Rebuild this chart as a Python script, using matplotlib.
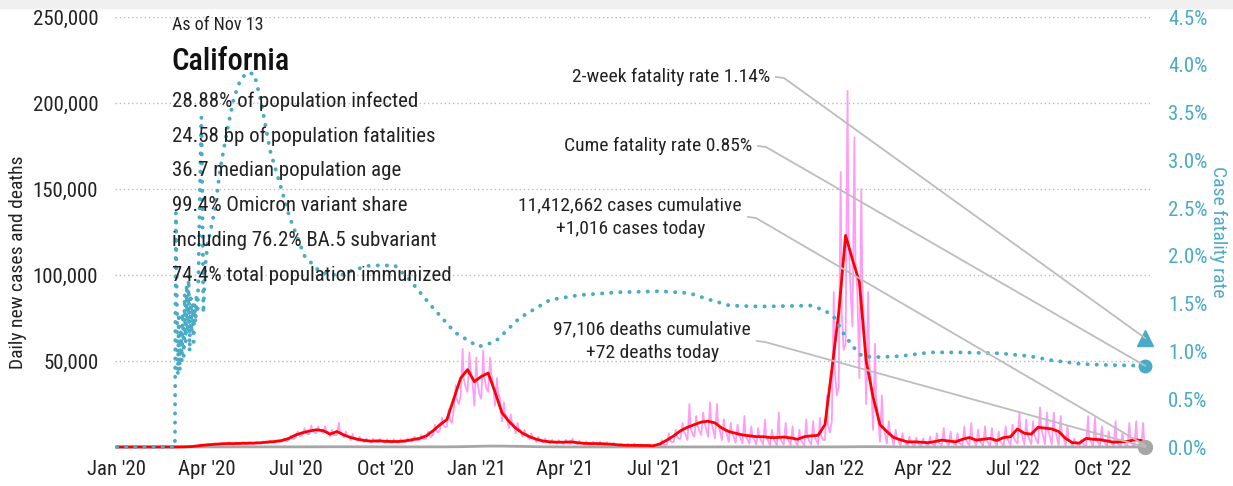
import matplotlib
matplotlib.use('Agg')
import matplotlib.pyplot as plt
import matplotlib.dates as mdates
import matplotlib.ticker as mticker
import numpy as np
import pandas as pd
from matplotlib.lines import Line2D
from matplotlib.patches import Rectangle

plt.rcParams['font.family'] = ['Liberation Sans Narrow', 'Roboto Condensed', 'DejaVu Sans']

START = pd.Timestamp('2020-01-01')
END = pd.Timestamp('2022-11-13')

# weekly 7-day average of new cases (week k starts START + 7k days)
cases_avg = [0, 0, 0, 0, 0, 0, 0, 0, 0, 20, 100, 300, 800, 1200, 1500, 1800, 2000, 2000, 2100, 2200,
             2300, 2500, 2900, 3200, 3800, 5000, 7000, 8300, 9300, 10000, 9500, 7500, 9000, 7000, 5500, 4500, 3800, 3400, 3600, 3300,
             3200, 3200, 3600, 4300, 5000, 6500, 9500, 13000, 16000, 28000, 40000, 45000, 38000, 41000, 43000, 32000, 20000, 15000, 11000, 8000,
             6000, 4500, 3500, 3000, 2800, 2800, 3000, 2500, 2100, 2000, 2000, 1800, 1600, 1200, 1000, 1000, 900, 900, 700, 1800,
             4000, 6500, 9500, 11500, 13000, 14500, 15000, 14000, 11000, 9000, 8000, 7000, 6500, 6000, 6000, 5500, 5500, 5800, 5300, 4500,
             6000, 6500, 6800, 13000, 45000, 78000, 123000, 109000, 96000, 50000, 29000, 13000, 9000, 5500, 4200, 3000, 3000, 2800, 2500, 3200,
             4000, 3500, 3000, 4500, 5500, 4000, 4500, 5000, 3800, 5500, 6000, 10500, 8000, 7500, 11500, 11000, 10500, 9000, 5000, 2500,
             2300, 5000, 4500, 4300, 3500, 2800, 3000, 3200, 4200, 3800]

# weekly high and low of the daily reported cases
cases_hi = [0, 0, 0, 0, 0, 0, 0, 0, 0, 50, 300, 700, 1500, 2000, 2200, 2500, 2700, 2600, 2800, 3000,
            3000, 3300, 3800, 4000, 4800, 6500, 9000, 11000, 12500, 12000, 12000, 10000, 14000, 9000, 7500, 6000, 5000, 4800, 4800, 4500,
            4500, 4600, 5000, 6000, 7000, 9000, 13000, 17000, 22000, 36000, 57000, 55000, 52000, 56000, 52000, 40000, 26000, 19000, 14000, 10000,
            8000, 6000, 5000, 4200, 4000, 4200, 5000, 3500, 3200, 3000, 3000, 2800, 2500, 2000, 1800, 2000, 1500, 1500, 1200, 4000,
            8000, 10000, 14000, 25000, 18000, 20000, 26000, 25000, 16000, 14000, 13000, 18000, 12000, 11000, 16000, 10000, 20000, 14000, 12000, 10000,
            16000, 15000, 17000, 30000, 90000, 160000, 207000, 180000, 150000, 90000, 60000, 30000, 15000, 10000, 8000, 6000, 5500, 5000, 6000, 8000,
            11000, 9000, 8000, 12000, 14000, 10000, 12000, 11000, 9000, 12000, 13000, 20000, 16000, 15000, 23000, 20000, 20000, 18000, 12000, 5000,
            4000, 18000, 17000, 12000, 9000, 15000, 8000, 14000, 15000, 14000]

cases_lo = [0, 0, 0, 0, 0, 0, 0, 0, 0, 0, 50, 200, 500, 900, 1000, 1300, 1500, 1500, 1600, 1700,
            1800, 2000, 2300, 2600, 3200, 4000, 5500, 7000, 7500, 8000, 8000, 6000, 7000, 5500, 4000, 3500, 2800, 2600, 2700, 2500,
            2400, 2500, 2800, 3300, 4000, 5000, 7500, 10000, 12000, 22000, 30000, 32000, 24000, 28000, 32000, 24000, 15000, 11000, 8000, 6000,
            4500, 3000, 2500, 2000, 1800, 1700, 1800, 1500, 1300, 1200, 1100, 1000, 800, 500, 400, 300, 300, 300, 0, 500,
            1500, 3000, 5000, 4000, 6000, 7000, 6000, 5000, 4000, 3000, 2500, 2000, 2000, 1500, 1500, 1000, 1000, 1500, 1000, 800,
            1000, 1500, 1500, 4000, 15000, 35000, 60000, 70000, 40000, 25000, 10000, 3000, 2000, 1000, 800, 500, 500, 400, 500, 800,
            1000, 800, 600, 1000, 1000, 800, 800, 800, 600, 1000, 1000, 2000, 1500, 1500, 2000, 1500, 1500, 1200, 800, 400,
            300, 500, 500, 500, 400, 300, 300, 300, 300, 300]

deaths_avg = [0, 0, 0, 0, 0, 0, 0, 0, 0, 0, 5, 15, 30, 50, 60, 80, 90, 80, 75, 75,
              70, 65, 60, 60, 60, 65, 80, 90, 110, 120, 130, 135, 130, 125, 115, 100, 90, 80, 70, 65,
              60, 55, 50, 45, 45, 45, 50, 60, 80, 110, 180, 270, 380, 480, 530, 540, 520, 470, 420, 330,
              250, 180, 130, 100, 80, 60, 50, 45, 40, 35, 30, 25, 22, 20, 20, 18, 18, 18, 15, 15,
              20, 25, 35, 50, 70, 90, 100, 110, 110, 105, 95, 85, 75, 65, 60, 50, 45, 40, 40, 40,
              40, 40, 40, 40, 50, 70, 110, 170, 220, 240, 220, 170, 130, 90, 70, 55, 45, 35, 30, 25,
              20, 20, 20, 20, 20, 20, 25, 25, 25, 30, 30, 35, 35, 40, 40, 45, 45, 45, 40, 40,
              35, 30, 30, 25, 25, 25, 25, 25, 25, 25]

# case fatality rate (%) by day number since 2020-01-01
cfr_days = [0, 59, 60, 61, 62, 63, 64, 65, 66, 67, 68, 69, 70, 71, 72, 73, 74, 75, 76, 77, 78, 79, 80,
            81, 82, 83, 84, 85, 86, 87, 88, 89, 90, 91, 92, 93, 94, 95,
            100, 105, 112, 119, 126, 133, 140, 147, 156, 166, 176, 191, 207, 227, 240, 258, 283, 298, 319,
            344, 368, 385, 410, 441, 471, 512, 553, 583, 604, 624, 655, 706, 721, 731, 741, 752, 759, 772,
            797, 828, 858, 899, 930, 950, 981, 1001, 1047]
cfr_values = [0, 0, 2.45, 1.5, 0.75, 1.4, 0.8, 1.2, 0.9, 1.4, 0.95, 1.6, 1.1, 1.7, 1.2, 1.8, 1.0, 1.6, 1.2, 1.5, 1.1, 1.5, 1.3,
              1.6, 1.4, 1.8, 2.4, 3.0, 3.45, 2.5, 1.4, 1.7, 1.9, 2.0, 2.1, 2.2, 2.2, 2.25,
              2.5, 2.9, 3.3, 3.65, 3.85, 3.92, 3.9, 3.6, 3.1, 2.75, 2.4, 2.0, 1.83, 1.79, 1.85, 1.9, 1.9, 1.75, 1.49,
              1.2, 1.05, 1.1, 1.35, 1.54, 1.59, 1.62, 1.63, 1.61, 1.54, 1.48, 1.47, 1.48, 1.43, 1.35, 1.17, 1.02, 0.95, 0.94,
              0.95, 0.99, 0.99, 0.98, 0.95, 0.91, 0.87, 0.86, 0.85]

cfr_2week = 1.14
cfr_cume = 0.85
cases_today = 1016
deaths_today = 72

stats_lines = ["28.88% of population infected",
               "24.58 bp of population fatalities",
               "36.7 median population age",
               "99.4% Omicron variant share",
               "including 76.2% BA.5 subvariant",
               "74.4% total population immunized"]

left_ticks = [0, 50000, 100000, 150000, 200000, 250000]
right_ticks = [0.0, 0.5, 1.0, 1.5, 2.0, 2.5, 3.0, 3.5, 4.0, 4.5]

BLUE = '#4aabc6'
PINK = '#ff9cf6'
RED = '#ff0000'
GRAY = '#a6a6a6'
LEADER = '#bdbdbd'

W, H = 1233, 486
fig = plt.figure(figsize=(W / 100, H / 100), dpi=100)
fig.patches.append(Rectangle((0, 1 - 8 / H), 1, 8 / H, transform=fig.transFigure,
                             color='#f0f0f0', zorder=0))

ax_l, ax_r, ax_t, ax_b = 115, 1150, 17, 447
ax = fig.add_axes([ax_l / W, 1 - ax_b / H, (ax_r - ax_l) / W, (ax_b - ax_t) / H])
ax2 = ax.twinx()

week_dates = START + pd.to_timedelta(np.arange(len(cases_avg)) * 7, unit='D')

# daily reported cases, spiky
pd_dates, pd_vals = [], []
for d, lo, hi, av in zip(week_dates, cases_lo, cases_hi, cases_avg):
    pd_dates += [d, d + pd.Timedelta(days=2), d + pd.Timedelta(days=3), d + pd.Timedelta(days=5)]
    pd_vals += [lo, hi, av, (lo + av) / 2]
ax.plot(pd_dates, pd_vals, color=PINK, lw=1.3, zorder=2, clip_on=False)
ax.plot(week_dates, deaths_avg, color=GRAY, lw=2.0, zorder=3, clip_on=False)
ax.plot(week_dates, cases_avg, color=RED, lw=2.0, zorder=4, clip_on=False)

cfr_dates = START + pd.to_timedelta(cfr_days, unit='D')
ax2.plot(cfr_dates, cfr_values, color=BLUE, lw=2.8, linestyle=(0, (0.05, 2.3)),
         dash_capstyle='round', zorder=3, clip_on=False)

ax.set_xlim(START - pd.Timedelta(days=2), END + pd.Timedelta(days=5))
ax.set_ylim(0, 250000)
ax2.set_ylim(0, 4.5)

ax.set_yticks(left_ticks)
ax.yaxis.set_major_formatter(mticker.FuncFormatter(lambda v, p: f"{int(v):,}" if v > 0 else ""))
ax2.set_yticks(right_ticks)
ax2.yaxis.set_major_formatter(mticker.FuncFormatter(lambda v, p: f"{v:.1f}%"))

ax.xaxis.set_major_locator(mdates.MonthLocator(bymonth=[1, 4, 7, 10]))
ax.xaxis.set_major_formatter(mdates.DateFormatter("%b '%y"))

for a in (ax, ax2):
    for s in a.spines.values():
        s.set_visible(False)
    a.tick_params(length=0)
ax.tick_params(axis='y', labelsize=15, pad=12, labelcolor='#222222')
ax.tick_params(axis='x', labelsize=15, pad=9, labelcolor='#222222')
ax2.tick_params(axis='y', labelsize=15, pad=13, labelcolor=BLUE)

ax.grid(axis='y', color='#bbbbbb', linestyle=(0, (1, 2)), lw=1)
ax.yaxis.get_gridlines()[0].set_visible(False)
ax.set_axisbelow(True)

fig.text(18 / W, 1 - 262 / H, "Daily new cases and deaths", rotation=90, va='center', ha='center',
         fontsize=14, color='#222222')
fig.text(1218 / W, 1 - 232 / H, "Case fatality rate", rotation=270, va='center', ha='center',
         fontsize=14, color=BLUE)

# info block
fig.text(172 / W, 1 - 25 / H, "As of Nov 13", fontsize=13, va='center', ha='left', color='#222222')
fig.text(171 / W, 1 - 61 / H, "California", fontsize=22, va='center', ha='left', color='#111111',
         fontweight='medium')
for i, s in enumerate(stats_lines):
    fig.text(172 / W, 1 - (101 + i * 34.8) / H, s, fontsize=15, va='center', ha='left', color='#222222')

# end markers
ax2.plot([END], [cfr_2week], marker='^', ms=11, color=BLUE, clip_on=False, zorder=6)
ax2.plot([END], [cfr_cume], marker='o', ms=9, color=BLUE, clip_on=False, zorder=6)
ax2.plot([END], [deaths_today * 4.5 / 250000], marker='o', ms=10, color=GRAY, clip_on=False, zorder=6)

fig.canvas.draw()
def disp(a, x, y):
    return a.transData.transform((mdates.date2num(x), y))

annots = [
    ("2-week fatality rate 1.14%", 770, 77, ax2, cfr_2week),
    ("Cume fatality rate 0.85%", 752, 146, ax2, cfr_cume),
    ("11,412,662 cases cumulative\n+1,016 cases today", 742, 217, ax, cases_today),
    ("97,106 deaths cumulative\n+72 deaths today", 751, 341, ax, deaths_today),
]
for txt, xr, yc, a, val in annots:
    fig.text(xr / W, 1 - yc / H, txt, fontsize=14, va='center', ha='right', multialignment='center',
             color='#222222', linespacing=1.4)
    ex, ey = disp(a, END, val)
    x0, y0 = xr + 6, H - yc
    x1 = xr + 14
    line = Line2D([x0, x1, ex], [y0, y0 - 1, ey], color=LEADER, lw=1.3, transform=None, zorder=5)
    fig.add_artist(line)

fig.savefig('out.png', dpi=100)
